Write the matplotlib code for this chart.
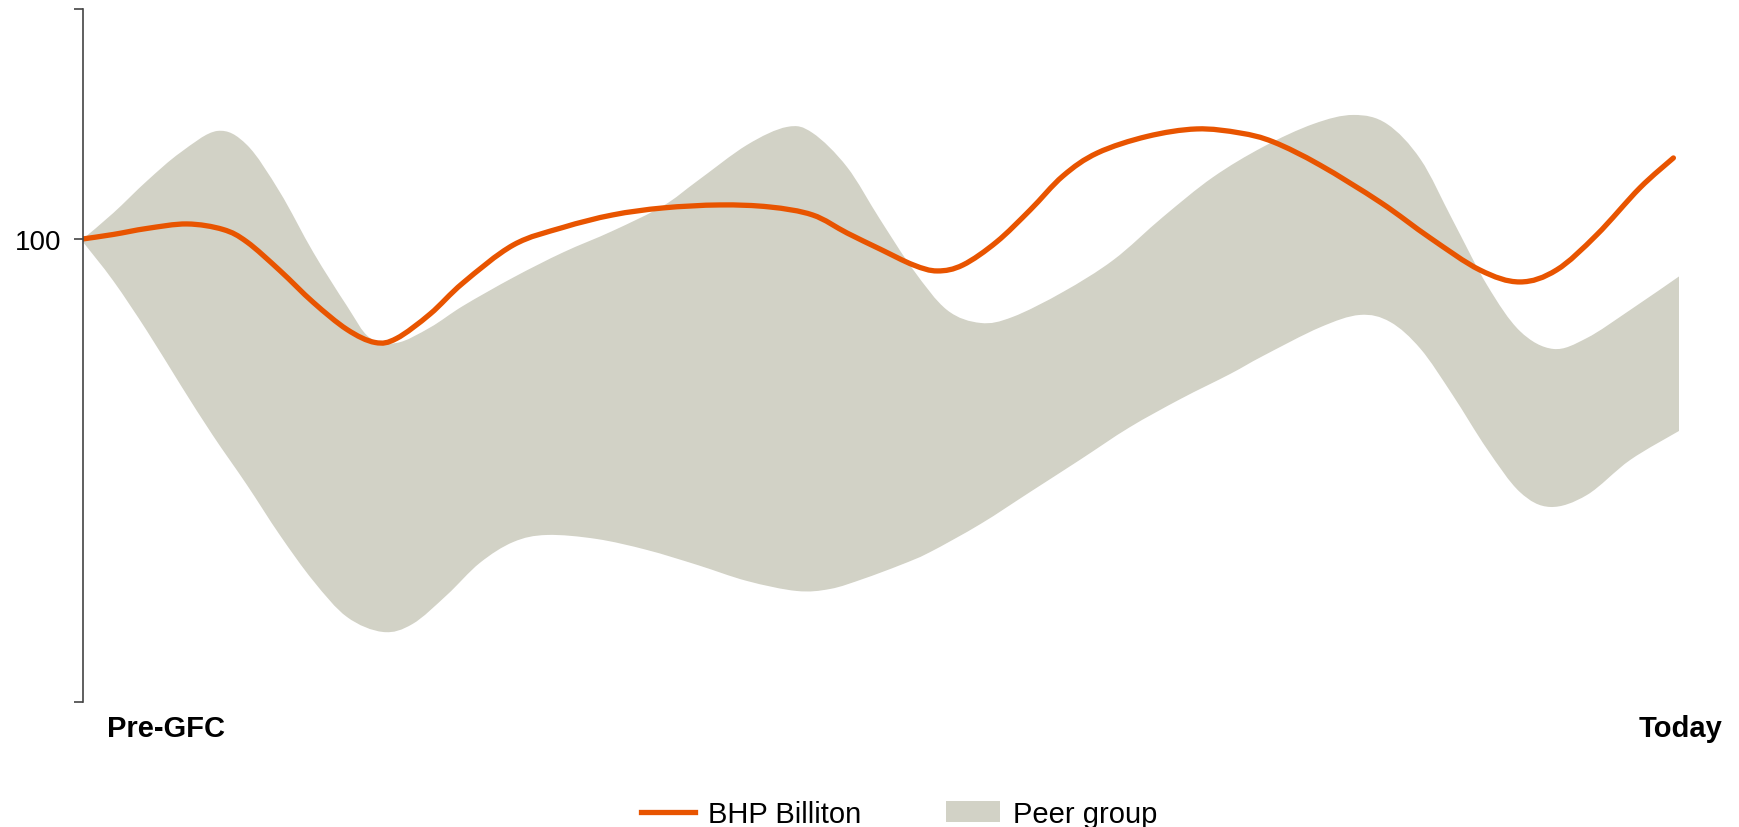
import numpy as np
import matplotlib.pyplot as plt
from matplotlib.path import Path
from matplotlib.patches import PathPatch, Patch
from matplotlib.lines import Line2D

plt.rcParams['font.family'] = ['Liberation Sans', 'DejaVu Sans']

# BHP Billiton, indexed to 100 at Pre-GFC (x = 0 .. 100 period scale)
bhp_x = [0, 1.9, 4.0, 6.5, 8.75, 10.25, 12.3, 14.4, 16.5, 18.25, 19.6, 21.7, 23.75,
         26.9, 30.0, 33.1, 36.25, 39.8, 42.9, 45.6, 47.75, 49.8, 51.9, 53.4, 55.0,
         57.1, 59.2, 61.25, 63.4, 66.5, 69.6, 72.3, 74.4, 77.3, 81.1, 84.2, 87.3,
         89.8, 92.1, 94.6, 97.3, 99.4]
bhp_y = [100, 100.9, 102.1, 103.0, 101.9, 99.4, 93.7, 87.3, 81.9, 79.3, 80.1, 85.0, 91.2,
         98.8, 102.3, 104.8, 106.2, 106.8, 106.4, 104.8, 101.2, 98.0, 94.8, 93.6, 94.8,
         99.4, 105.8, 112.6, 117.2, 120.5, 122.0, 121.2, 119.4, 114.8, 107.3, 100.2, 93.8,
         91.4, 93.8, 100.8, 110.2, 116.2]

# peer group range: upper edge
peer_hi_x = [0, 1.9, 4.0, 6.1, 8.4, 10.25, 12.3, 14.4, 16.5, 17.9, 19.6, 21.7, 23.75,
             26.9, 30.0, 33.1, 36.25, 38.4, 41.5, 44.0, 45.6, 47.75, 49.8, 51.9,
             54.0, 56.1, 58.1, 61.25, 64.4, 67.5, 70.6, 73.75, 76.9, 79.4, 81.5, 83.6,
             85.6, 87.75, 89.8, 91.9, 94.0, 96.7, 99.75]
peer_hi_y = [100, 105.2, 111.6, 117.3, 121.6, 118.8, 109.4, 97.3, 86.6, 80.3, 79.2, 82.3, 86.6,
             92.3, 97.3, 101.6, 106.6, 111.6, 118.8, 122.4, 121.2, 114.4, 104.0, 93.8,
             85.8, 83.2, 84.4, 89.4, 95.8, 104.4, 112.3, 118.4, 123.0, 124.8, 123.0, 115.9,
             103.8, 90.8, 81.6, 78.0, 80.2, 85.8, 92.5]

# peer group range: lower edge
peer_lo_x = [0, 1.9, 4.0, 6.1, 8.1, 10.25, 12.3, 14.4, 16.5, 18.75, 20.6, 22.75, 24.8,
             26.9, 29.0, 32.1, 35.25, 38.4, 41.5, 44.6, 46.7, 48.75, 51.1, 52.9, 56.1,
             59.2, 62.3, 65.4, 68.6, 71.7, 73.75, 77.3, 79.8, 81.7, 83.6, 85.6,
             87.75, 89.8, 91.7, 94.0, 96.7, 99.75]
peer_lo_y = [99.4, 91.6, 81.6, 70.8, 60.8, 50.8, 40.8, 31.6, 24.4, 21.4, 23.0, 28.8, 35.2,
             39.4, 40.8, 40.0, 37.8, 34.8, 31.6, 29.6, 30.0, 32.0, 34.8, 37.3, 43.0,
             49.4, 55.8, 62.3, 68.0, 73.0, 76.6, 82.3, 84.8, 83.4, 78.0, 68.8,
             58.0, 49.4, 46.4, 48.8, 55.8, 61.6]

orange = '#e85400'
band = '#d2d2c6'


def smooth_path(xs, ys):
    # cubic bezier segments through every point (catmull-rom style handles)
    p = np.column_stack([xs, ys]).astype(float)
    ext = np.vstack([p[0], p, p[-1]])
    verts = [p[0]]
    codes = [Path.MOVETO]
    for i in range(len(p) - 1):
        a, b, c, d = ext[i], ext[i + 1], ext[i + 2], ext[i + 3]
        verts += [b + (c - a) / 6, c - (d - b) / 6, c]
        codes += [Path.CURVE4] * 3
    return verts, codes


fig = plt.figure(figsize=(17.39, 8.28), dpi=100)
ax = fig.add_axes([0.0477, 0.151, 0.9178, 0.837])

# peer group band: upper edge forward, lower edge backward
v1, c1 = smooth_path(peer_hi_x, peer_hi_y)
v2, c2 = smooth_path(peer_lo_x[::-1], peer_lo_y[::-1])
c2[0] = Path.LINETO
verts = v1 + v2 + [v1[0]]
codes = c1 + c2 + [Path.CLOSEPOLY]
ax.add_patch(PathPatch(Path(verts, codes), facecolor=band, edgecolor='none', lw=0))

v, c = smooth_path(bhp_x, bhp_y)
ax.add_patch(PathPatch(Path(v, c), facecolor='none', edgecolor=orange, lw=3.8,
                       capstyle='round', joinstyle='round'))

ax.set_xlim(0, 99.75)
ax.set_ylim(7.4, 146)

for s in ['top', 'right', 'bottom']:
    ax.spines[s].set_visible(False)
ax.spines['left'].set_color('#444444')
ax.spines['left'].set_linewidth(1.2)

ax.set_xticks([])
ax.set_yticks([7.4, 100, 146])
ax.set_yticklabels(['', '100', ''])
ax.tick_params(axis='y', length=6.5, width=1.2, color='#444444', labelsize=20, pad=9)

ax.text(0.015, -0.038, 'Pre-GFC', transform=ax.transAxes, fontsize=21,
        fontweight='bold', ha='left', va='center')
ax.text(1.027, -0.038, 'Today', transform=ax.transAxes, fontsize=21,
        fontweight='bold', ha='right', va='center')

handles = [Line2D([], [], color=orange, lw=3.8), Patch(facecolor=band, edgecolor='none')]
fig.legend(handles, ['BHP Billiton', 'Peer group'], loc='center',
           bbox_to_anchor=(0.517, 0.016), ncol=2, frameon=False, fontsize=21,
           handlelength=1.85, handletextpad=0.45, columnspacing=2.9)

fig.savefig('out.png', dpi=100)
